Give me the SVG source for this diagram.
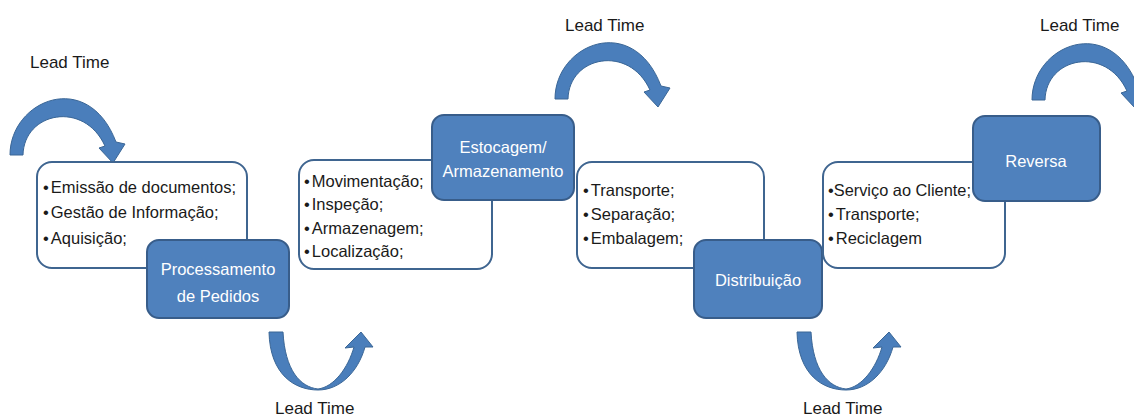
<svg xmlns="http://www.w3.org/2000/svg" width="1134" height="419" viewBox="0 0 1134 419">
<defs>
<style>
.wbox{fill:#ffffff;stroke:#3f6590;stroke-width:2}
.bbox{fill:#4f81bd;stroke:#385d8a;stroke-width:2}
.arc{fill:#4a7ebb;stroke:#3a6696;stroke-width:1}
.lbl{font-family:"Liberation Sans",Arial,sans-serif;font-size:17px;fill:#1a1a1a}
.item{font-family:"Liberation Sans",Arial,sans-serif;font-size:16.5px;fill:#1a1a1a}
.btxt{font-family:"Liberation Sans",Arial,sans-serif;font-size:16.5px;fill:#ffffff;text-anchor:middle}
</style>
<path id="arcTop" d="M10,155 C10,100 88,68 116,142 L125,144 L113,163 L99,148 L105,146 C84,100 24,112 23,155 Z"/>
<path id="arcBot" d="M269,332 C270,375 295,390 318,390 C340,390 358,372 365,347 L373,347 L361,332 L345,348 L354,347 C348,368 334,387 318,389 C300,387 285,370 283,332 Z"/>
</defs>
<rect width="1134" height="419" fill="#ffffff"/>

<g id="connectors">
<use href="#arcTop" class="arc"/>
<use href="#arcTop" class="arc" transform="translate(545,-56)"/>
<use href="#arcTop" class="arc" transform="translate(1022,-55)"/>
<use href="#arcBot" class="arc"/>
<use href="#arcBot" class="arc" transform="translate(528,0)"/>
<text class="lbl" x="30" y="68">Lead Time</text>
<text class="lbl" x="565" y="31">Lead Time</text>
<text class="lbl" x="1040" y="31">Lead Time</text>
<text class="lbl" x="275" y="414">Lead Time</text>
<text class="lbl" x="803" y="414">Lead Time</text>
</g>

<g id="list1">
<rect class="wbox" x="37" y="162" width="210" height="106" rx="15"/>
<text class="item" x="43" y="193">•<tspan dx="2">Emissão de documentos;</tspan></text>
<text class="item" x="43" y="218">•<tspan dx="2">Gestão de Informação;</tspan></text>
<text class="item" x="43" y="244">•<tspan dx="2">Aquisição;</tspan></text>
</g>
<g id="processamento">
<rect class="bbox" x="147" y="240" width="142" height="78" rx="12"/>
<text class="btxt" x="218" y="275">Processamento</text>
<text class="btxt" x="218" y="302">de Pedidos</text>
</g>

<g id="list2">
<rect class="wbox" x="299" y="160" width="193" height="109" rx="15"/>
<text class="item" x="304" y="187">•<tspan dx="2">Movimentação;</tspan></text>
<text class="item" x="304" y="210">•<tspan dx="2">Inspeção;</tspan></text>
<text class="item" x="304" y="234">•<tspan dx="2">Armazenagem;</tspan></text>
<text class="item" x="304" y="257">•<tspan dx="2">Localização;</tspan></text>
</g>
<g id="estocagem">
<rect class="bbox" x="432" y="115" width="142" height="85" rx="12"/>
<text class="btxt" x="503" y="153">Estocagem/</text>
<text class="btxt" x="503" y="177">Armazenamento</text>
</g>

<g id="list3">
<rect class="wbox" x="577" y="162" width="187" height="106" rx="15"/>
<text class="item" x="583" y="196">•<tspan dx="2">Transporte;</tspan></text>
<text class="item" x="583" y="220">•<tspan dx="2">Separação;</tspan></text>
<text class="item" x="583" y="244">•<tspan dx="2">Embalagem;</tspan></text>
</g>
<g id="distribuicao">
<rect class="bbox" x="694" y="240" width="128" height="78" rx="12"/>
<text class="btxt" x="758" y="286">Distribuição</text>
</g>

<g id="list4">
<rect class="wbox" x="823" y="162" width="182" height="106" rx="15"/>
<text class="item" x="828" y="196" textLength="143" lengthAdjust="spacingAndGlyphs">•Serviço ao Cliente;</text>
<text class="item" x="828" y="220">•<tspan dx="2">Transporte;</tspan></text>
<text class="item" x="828" y="244">•<tspan dx="2">Reciclagem</tspan></text>
</g>
<g id="reversa">
<rect class="bbox" x="973" y="116" width="127" height="85" rx="12"/>
<text class="btxt" x="1036" y="167">Reversa</text>
</g>
</svg>
